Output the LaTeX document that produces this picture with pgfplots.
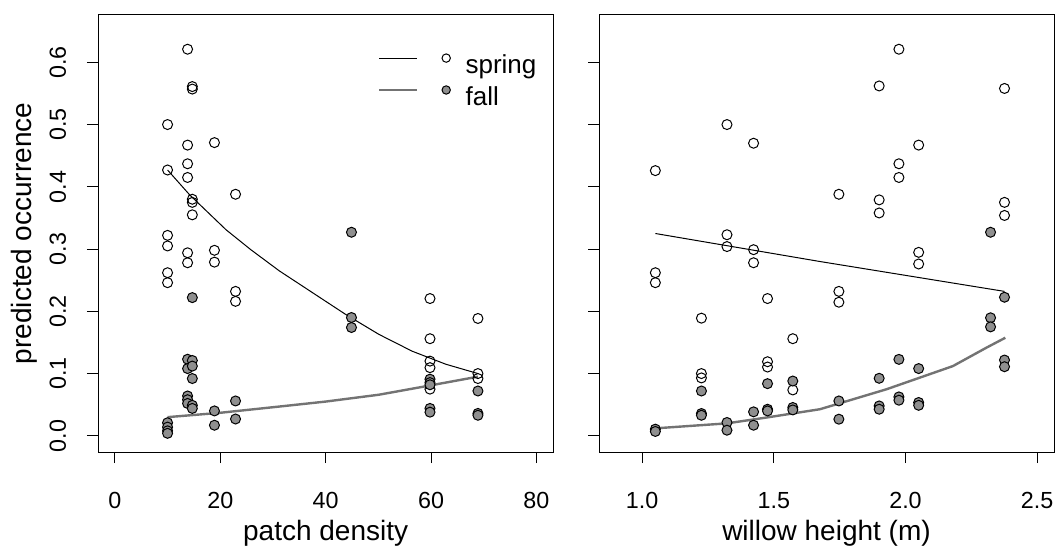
\documentclass[border=0pt]{standalone}
\usepackage{fontspec}
\setmainfont{Liberation Sans}
\usepackage{pgfplots}
\pgfplotsset{compat=1.18}
\definecolor{fallfill}{gray}{0.56}
\definecolor{fallgray}{gray}{0.45}

\pgfplotsset{
  rpanel/.style={
    scale only axis, height=218.5bp,
    ymin=-0.026, ymax=0.676,
    ytick={0,0.1,0.2,0.3,0.4,0.5,0.6},
    yticklabel style={/pgf/number format/fixed, /pgf/number format/fixed zerofill, /pgf/number format/precision=1},
    /pgf/number format/assume math mode=true,
    axis line style={black, line width=0.5bp},
    every tick/.style={black, line width=0.5bp},
    tick align=outside, major tick length=5.5bp,
    xtick pos=bottom, ytick pos=left,
    ticklabel style={font=\fontsize{11.65bp}{14bp}\selectfont},
    xticklabel style={anchor=base, yshift=-23bp},
    yticklabel style={rotate=90, anchor=base, yshift=10.5bp},
    every axis x label/.style={at={(axis description cs:0.5,0)}, anchor=base, yshift=-44bp, font=\fontsize{14bp}{16bp}\selectfont},
    every axis y label/.style={at={(axis description cs:0,0.5)}, rotate=90, anchor=base, yshift=33bp, font=\fontsize{14bp}{16bp}\selectfont},
    spring/.style={only marks, mark=o, mark size=2.5bp, mark options={draw=black, line width=0.5bp}, forget plot},
    fall/.style={only marks, mark=*, mark size=2.5bp, mark options={draw=black, fill=fallfill, line width=0.5bp}, forget plot},
    springline/.style={no marks, black, line width=0.5bp, forget plot},
    fallline/.style={no marks, fallgray, line width=1.2bp, forget plot},
  }
}

\begin{document}
\begin{tikzpicture}
\path[use as bounding box] (0,0) rectangle (529.5bp,275.5bp);

\begin{axis}[rpanel, at={(49bp,49.5bp)}, anchor=south west, width=227.65bp,
  xmin=-3.2, xmax=83.2, xtick={0,20,40,60,80},
  xlabel={patch density}, ylabel={predicted occurrence},
  legend style={at={(axis description cs:0.615,1)}, anchor=north west, yshift=-19.2bp,
    draw=none, fill=none, inner sep=0pt, outer sep=0pt,
    font=\fontsize{13bp}{15bp}\selectfont,
    nodes={inner sep=0pt, text height=9bp, text depth=3bp},
    row sep=3bp, column sep=0pt},
  legend cell align=left]
\addplot[spring] coordinates {
(10,0.500) (10,0.427) (10,0.322) (10,0.305) (10,0.262) (10,0.246)
(13.8,0.621) (13.8,0.467) (13.8,0.437) (13.8,0.415) (13.8,0.294) (13.8,0.278)
(14.7,0.561) (14.7,0.557) (14.7,0.380) (14.7,0.375) (14.7,0.355)
(18.9,0.471) (18.9,0.298) (18.9,0.279)
(22.9,0.388) (22.9,0.232) (22.9,0.216)
(59.8,0.2205) (59.8,0.156) (59.8,0.120) (59.8,0.1095) (59.8,0.075)
(68.9,0.1885) (68.9,0.100) (68.9,0.092)
};
\addplot[fall] coordinates {
(10,0.021) (10,0.014) (10,0.008) (10,0.004)
(13.8,0.123) (13.8,0.108) (13.8,0.064) (13.8,0.058) (13.8,0.052)
(14.7,0.222) (14.7,0.121) (14.7,0.112) (14.7,0.092) (14.7,0.049) (14.7,0.044)
(18.9,0.040) (18.9,0.017)
(22.9,0.056) (22.9,0.027)
(44.9,0.327) (44.9,0.190) (44.9,0.174)
(59.8,0.091) (59.8,0.0855) (59.8,0.082) (59.8,0.044) (59.8,0.038)
(68.9,0.072) (68.9,0.036) (68.9,0.033)
};
\addplot[springline] coordinates {
(10,0.427) (14.2,0.387) (21.1,0.331) (25.8,0.299) (31.2,0.265) (37.5,0.230)
(43.8,0.195) (50.1,0.163) (56.4,0.136) (62.8,0.115) (68.9,0.100)
};
\addplot[fallline] coordinates {
(10,0.030) (20,0.037) (31.2,0.047) (40,0.055) (50.1,0.066) (59.9,0.081) (68.9,0.095)
};
\addlegendimage{legend image code/.code={
  \draw[black,line width=0.5bp] (-1bp,4.6bp) -- (18bp,4.6bp);
  \draw[black,line width=0.5bp,fill=white] (32.5bp,4.6bp) circle[radius=2.1bp];
  \path (-1bp,0bp) (42bp,0bp);}}
\addlegendentry{spring}
\addlegendimage{legend image code/.code={
  \draw[fallgray,line width=1.2bp] (-1bp,4.6bp) -- (18bp,4.6bp);
  \draw[black,line width=0.5bp,fill=fallfill] (32.5bp,4.6bp) circle[radius=2.1bp];
  \path (-1bp,0bp) (42bp,0bp);}}
\addlegendentry{fall}
\end{axis}

\begin{axis}[rpanel, at={(299.5bp,49.5bp)}, anchor=south west, width=227.5bp,
  xmin=0.836, xmax=2.564, xtick={1.0,1.5,2.0,2.5},
  xticklabel style={/pgf/number format/fixed, /pgf/number format/fixed zerofill, /pgf/number format/precision=1},
  yticklabels={},
  xlabel={willow height (m)}]
\addplot[spring] coordinates {
(1.050,0.426) (1.050,0.262) (1.050,0.246)
(1.225,0.189) (1.225,0.100) (1.225,0.093)
(1.322,0.500) (1.322,0.323) (1.322,0.304)
(1.423,0.470) (1.423,0.299) (1.423,0.278)
(1.476,0.2205) (1.476,0.119) (1.476,0.1105)
(1.572,0.156) (1.572,0.0737)
(1.747,0.388) (1.747,0.232) (1.747,0.2146)
(1.900,0.562) (1.900,0.379) (1.900,0.358)
(1.975,0.621) (1.975,0.437) (1.975,0.415)
(2.050,0.467) (2.050,0.2947) (2.050,0.276)
(2.376,0.558) (2.376,0.375) (2.376,0.354)
};
\addplot[fall] coordinates {
(1.050,0.0107) (1.050,0.007)
(1.225,0.072) (1.225,0.0358) (1.225,0.033)
(1.322,0.0214) (1.322,0.009)
(1.423,0.0385) (1.423,0.017)
(1.476,0.0838) (1.476,0.0427) (1.476,0.040)
(1.572,0.088) (1.572,0.0455) (1.572,0.0416)
(1.747,0.056) (1.747,0.0267)
(1.900,0.0924) (1.900,0.048) (1.900,0.0427)
(1.975,0.1228) (1.975,0.0625) (1.975,0.0572)
(2.050,0.108) (2.050,0.0535) (2.050,0.049)
(2.323,0.327) (2.323,0.1896) (2.323,0.175)
(2.376,0.2226) (2.376,0.1217) (2.376,0.111)
};
\addplot[springline] coordinates {
(1.050,0.325) (1.675,0.280) (2.376,0.232)
};
\addplot[fallline] coordinates {
(1.050,0.012) (1.322,0.020) (1.474,0.0295) (1.675,0.0427) (1.928,0.0748)
(2.180,0.112) (2.307,0.1415) (2.379,0.1575)
};
\end{axis}
\end{tikzpicture}
\end{document}
